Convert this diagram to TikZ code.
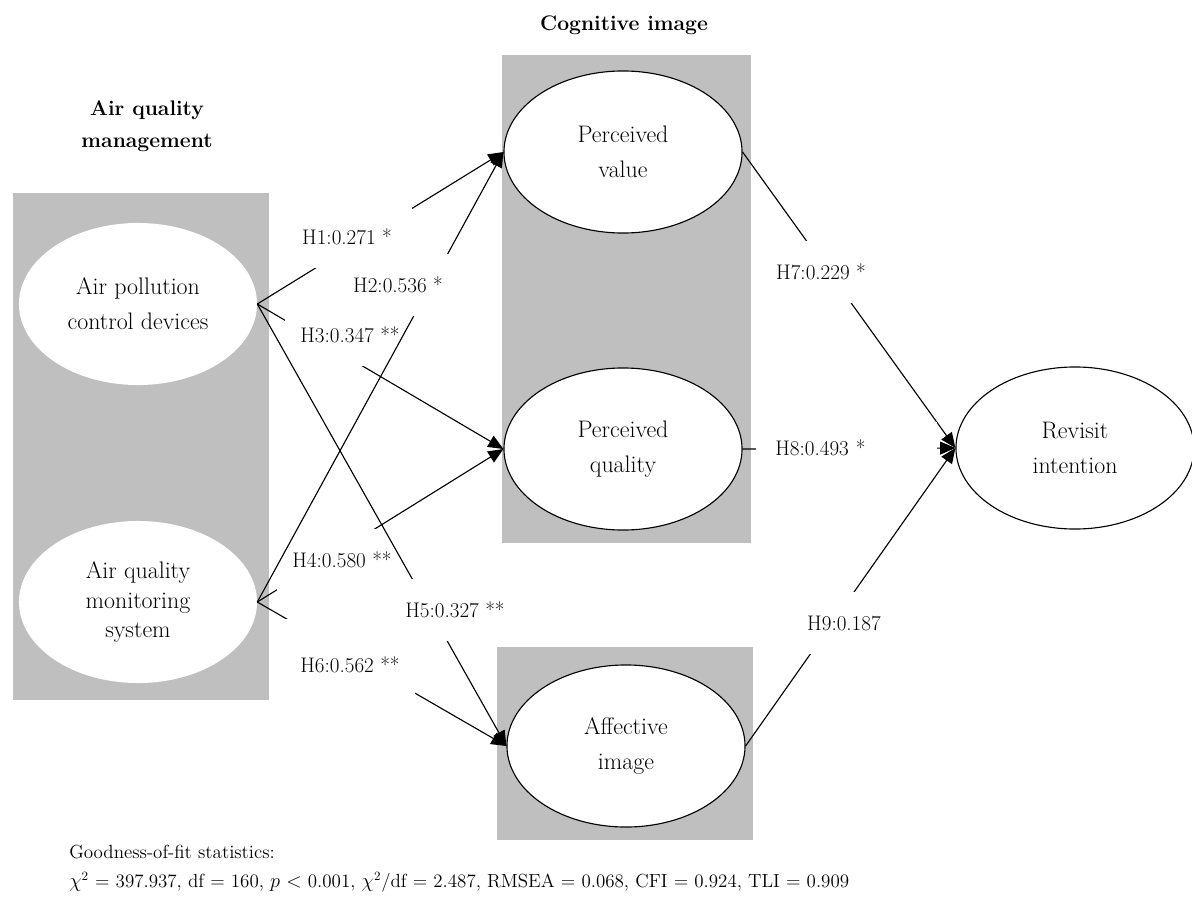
\documentclass[tikz,border=0pt]{standalone}
\usepackage{tikz}
\usepackage{amsmath}
\usetikzlibrary{shapes.geometric,arrows.meta}

\definecolor{boxgray}{RGB}{191,191,191}

\begin{document}
\begin{tikzpicture}[x=0.025cm, y=-0.025cm,
  construct/.style={ellipse, fill=white, minimum width=5.95cm, minimum height=4.05cm, inner sep=0pt, align=center, font=\fontsize{17}{25}\selectfont},
  outlined/.style={construct, draw=black, line width=0.8pt},
  hyp/.style={line width=0.8pt, -{Triangle[length=0.38cm, width=0.32cm]}},
  coef/.style={fill=white, inner sep=0pt, minimum width=3.25cm, minimum height=1.55cm, font=\fontsize{15}{18}\selectfont},
  heading/.style={align=center, font=\fontsize{15}{22.7}\selectfont\bfseries},
  stat/.style={anchor=west, inner sep=0pt, font=\fontsize{13.5}{16}\selectfont}]

\useasboundingbox (0,0) rectangle (1192,900);

% grey groups
\fill[boxgray] (13,193) rectangle (269,700);
\fill[boxgray] (502,55) rectangle (751,543);
\fill[boxgray] (497,647) rectangle (753,840);

\node[heading] (aqm) at (147,126) {Air quality\\management};
\node[heading] (cog) at (624,25) {Cognitive image};

\node[construct] (apcd) at (138,304) {Air pollution\\control devices};
\node[construct, font=\fontsize{17}{21}\selectfont] (aqms) at (138,602) {Air quality\\monitoring\\system};

\node[outlined] (pv) at (623,152) {Perceived\\value};
\node[outlined] (pq) at (623,449) {Perceived\\quality};
\node[outlined] (ai) at (626,746) {Affective\\image};
\node[outlined] (ri) at (1075,448) {Revisit\\intention};

% hypotheses, each label box breaks its own line
\draw[hyp] (apcd.east) -- (pq.west);
\node[coef] (h3) at (350,335) {H3:0.347 **};
\draw[hyp] (aqms.east) -- (pq.west);
\node[coef] (h4) at (342,560) {H4:0.580 **};
\draw[hyp] (aqms.east) -- (ai.west);
\node[coef, minimum height=2.3cm] (h6) at (350,665) {H6:0.562 **};
\draw[hyp] (apcd.east) -- (ai.west);
\node[coef] (h5) at (455,610) {H5:0.327 **};
\draw[hyp] (aqms.east) -- (pv.west);
\node[coef] (h2) at (398,285) {H2:0.536 *};
\draw[hyp] (apcd.east) -- (pv.west);
\node[coef] (h1) at (347,237) {H1:0.271 *};

\draw[hyp] (pv.east) -- (ri.west);
\node[coef] (h7) at (821,272) {H7:0.229 *};
\draw[hyp] (pq.east) -- (ri.west);
\node[coef, minimum height=1.3cm, anchor=west, inner xsep=0.475cm, text width=3.575cm, align=left] (h8) at (756,448) {H8:0.493 *};
\draw[hyp] (ai.east) -- (ri.west);
\node[coef] (h9) at (844,623) {H9:0.187};

% fit statistics
\node[stat] (gof) at (69,852) {Goodness-of-fit statistics:};
\node[stat] (fit) at (69,882) {$\chi^2$ = 397.937, df = 160, $p$ $<$ 0.001, $\chi^2$/df = 2.487, RMSEA = 0.068, CFI = 0.924, TLI = 0.909};

\end{tikzpicture}
\end{document}
